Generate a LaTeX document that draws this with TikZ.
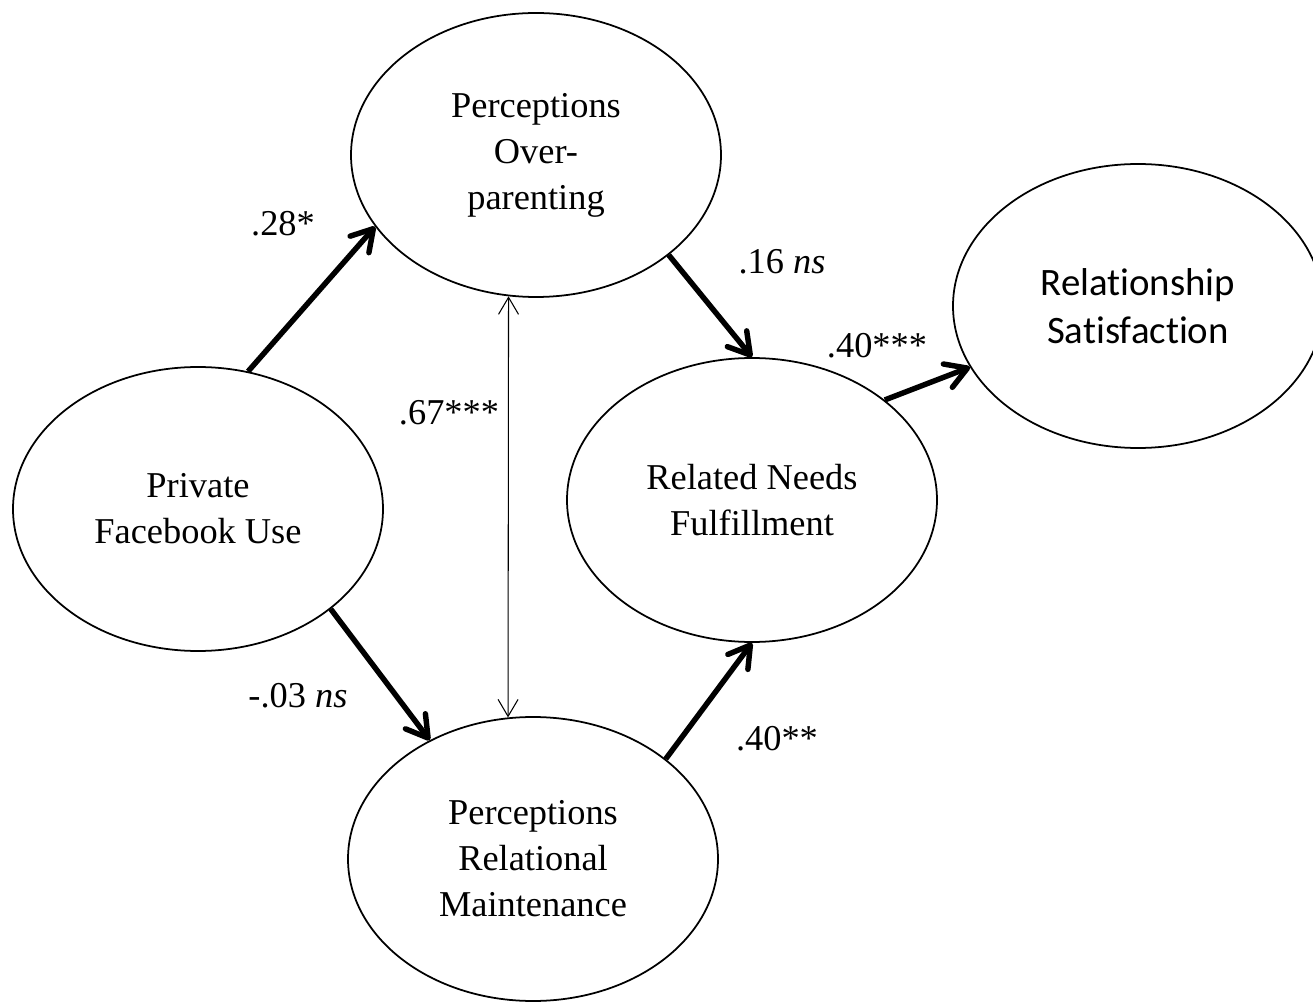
\documentclass[tikz,border=0pt]{standalone}
\usepackage{fontspec}
\setmainfont[Ligatures=NoCommon]{Liberation Serif}
\newfontfamily\calibri[Ligatures=NoCommon]{Carlito}
\usetikzlibrary{shapes.geometric,arrows.meta}

\begin{document}
\begin{tikzpicture}[
    lat/.style={ellipse, draw=black, line width=1pt, minimum width=7.4cm, minimum height=5.68cm, inner sep=0pt, align=center, font=\fontsize{20.7}{26.2}\selectfont},
    arr/.style={-{Straight Barb[length=4.2mm, width=5mm, round]}, draw=black, line width=3.1pt},
    dbl/.style={{Straight Barb[length=3.4mm, width=4mm]}-{Straight Barb[length=3.4mm, width=4mm]}, draw=black, line width=0.6pt},
    lbl/.style={inner sep=0pt, font=\fontsize{20.7}{26.2}\selectfont}
  ]
    \useasboundingbox (0,0) rectangle (26.26,20.02);
    \node[lat] (op) at (10.72,16.92) {Perceptions\\Over-\\parenting};
    \node[lat, font=\calibri\fontsize{22.1}{27.3}\selectfont] (rs) at (22.76,13.90) {Relationship\\Satisfaction};
    \node[lat] (fb) at (3.96,9.84) {Private\\Facebook Use};
    \node[lat] (nf) at (15.04,10.02) {Related Needs\\Fulfillment};
    \node[lat] (rm) at (10.66,2.84) {Perceptions\\Relational\\Maintenance};
    \node[lbl] (w1) at (5.66,15.54) {.28*};
    \node[lbl] (w2) at (15.64,14.78) {.16 \textit{ns}};
    \node[lbl] (w3) at (17.54,13.10) {.40***};
    \node[lbl] (w4) at (8.98,11.76) {.67***};
    \node[lbl] (w5) at (5.96,6.10) {-.03 \textit{ns}};
    \node[lbl] (w6) at (15.54,5.24) {.40**};
    \draw[arr] (fb.70.5) -- (op.-156);
    \draw[arr] (fb.-37.4) -- (rm.131.5);
    \draw[arr] (op.-37.9) -- (nf.north);
    \draw[arr] (rm.37.4) -- (nf.south);
    \draw[arr] (nf.37.9) -- (rs.-160.9);
    \draw[dbl] (op.-101.5) -- (rm.100.6);
\end{tikzpicture}
\end{document}
